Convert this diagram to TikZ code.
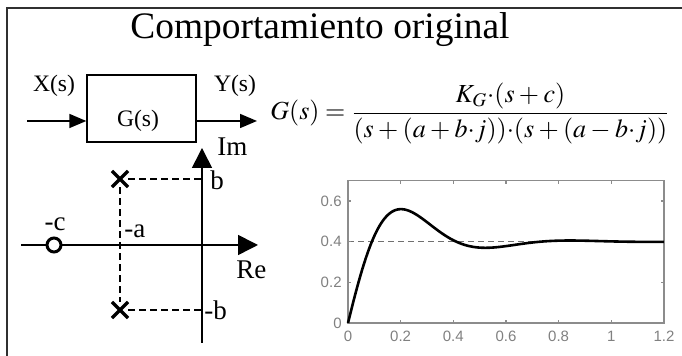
\documentclass[tikz,border=0pt]{standalone}
\usepackage{mathptmx}
\usepackage{fontspec}
\setmainfont{Liberation Serif}
\newfontfamily\plotfont{Liberation Sans}
\usetikzlibrary{arrows.meta,shapes.misc}

\begin{document}
\begin{tikzpicture}[x=0.5pt, y=-0.5pt,
    every node/.style={inner sep=0pt},
    frameLine/.style={line width=1pt, draw=frameColour},
    titleText/.style={font=\fontsize{18.7}{22}\selectfont},
    ioText/.style={font=\fontsize{11.8}{14}\selectfont},
    block/.style={draw, line width=0.7pt, minimum width=54.5pt, minimum height=33.5pt},
    blockArrow/.style={line width=0.8pt, -{Triangle[length=8.5pt,width=7pt]}},
    axisArrow/.style={line width=0.8pt, -{Triangle[length=10pt,width=10pt]}},
    guide/.style={line width=0.7pt, dash pattern=on 3.5pt off 2pt},
    pole/.style={cross out, draw, line width=1.6pt, minimum size=6.5pt},
    zero/.style={circle, draw, fill=white, line width=1.5pt, minimum size=7pt},
    pzText/.style={font=\fontsize{13.5}{16}\selectfont},
    plotFrame/.style={draw=plotColour, line width=0.6pt},
    tickText/.style={font=\plotfont\fontsize{7.5}{9}\selectfont, text=tickColour},
    refLine/.style={draw=refColour, line width=0.6pt, dash pattern=on 3pt off 2pt},
    response/.style={line width=1.3pt, line join=round}]

    \definecolor{frameColour}{HTML}{303030}
    \definecolor{plotColour}{HTML}{8C8C8C}
    \definecolor{tickColour}{HTML}{808080}
    \definecolor{refColour}{HTML}{707070}

    \useasboundingbox (0,0) rectangle (682,356);

    % Frame and title
    \draw[frameLine] (7,356) -- (7,8) -- (682,8);
    \node[titleText, anchor=base] (title) at (320,39) {Comportamiento original};

    % Block diagram
    \node[block] (plant) at (141.5,108.5) {};
    \node[ioText] (plantText) at (138,121) {G(s)};
    \coordinate (xIn) at (27,121);
    \coordinate (yOut) at (257,121);
    \draw[blockArrow] (xIn) -- (plant.west |- xIn);
    \draw[blockArrow] (plant.east |- yOut) -- (yOut);
    \node[ioText] (xLabel) at (54,86) {X(s)};
    \node[ioText] (yLabel) at (235,86) {Y(s)};

    % Transfer function
    \node[anchor=base west, font=\fontsize{13}{16}\selectfont] (tf) at (270,120)
        {\medmuskip=3mu \thickmuskip=4mu
         $\displaystyle G(s)=\frac{K_G{\cdot}(s+c)}{(s+(a+b{\cdot}j)){\cdot}(s+(a-b{\cdot}j))}$};

    % Pole-zero map
    \coordinate (origin) at (202,245);
    \coordinate (imTop) at (202,148);
    \coordinate (imBottom) at (202,343);
    \coordinate (reLeft) at (21,245);
    \coordinate (reRight) at (258,245);
    \draw[axisArrow] (imBottom) -- (imTop);
    \draw[axisArrow] (reLeft) -- (reRight);

    \node[pole] (poleUp) at (120,179) {};
    \node[pole] (poleDown) at (120,310) {};
    \coordinate (bUp) at (origin |- poleUp);
    \coordinate (bDown) at (origin |- poleDown);
    \draw[guide] (poleUp) -- (bUp);
    \draw[guide] (poleDown) -- (bDown);
    \draw[guide] (poleUp) -- (poleDown);

    \node[zero] (zeroC) at (54,245) {};

    \node[pzText, anchor=west] (imLabel) at (217,147) {Im};
    \node[pzText, anchor=west] (reLabel) at (236,270) {Re};
    \node[pzText, anchor=west] (bLabel) at (210,180) {b};
    \node[pzText, anchor=west] (mbLabel) at (204,310) {-b};
    \node[pzText, anchor=west] (maLabel) at (124,231) {-a};
    \node[pzText] (mcLabel) at (55,224) {-c};

    % Step response
    \begin{scope}[shift={(348,323)}, x=131.65pt, y=101.65pt]
        \draw[refLine] (0,0.4) -- (1.2,0.4);
        \draw[plotFrame] (0,0) rectangle (1.2,0.7);
        \foreach \t in {0,0.2,0.4,0.6,0.8,1,1.2} {
            \draw[plotFrame] (\t,0) -- ++(0,1.6pt) (\t,0.7) -- ++(0,-1.6pt);
            \node[tickText, anchor=north] at ([yshift=-4pt]\t,0) {\t};
        }
        \foreach \v in {0,0.2,0.4,0.6} {
            \draw[plotFrame] (0,\v) -- ++(1.6pt,0) (1.2,\v) -- ++(-1.6pt,0);
            \node[tickText, anchor=east] at ([xshift=-3pt]0,\v) {\v};
        }
        \draw[response] plot[domain=0:1.2, samples=200]
            ({\x}, {0.4 - exp(-5.2*\x)*(0.4*cos(9.8*\x r) - 0.325*sin(9.8*\x r))});
    \end{scope}

\end{tikzpicture}
\end{document}
